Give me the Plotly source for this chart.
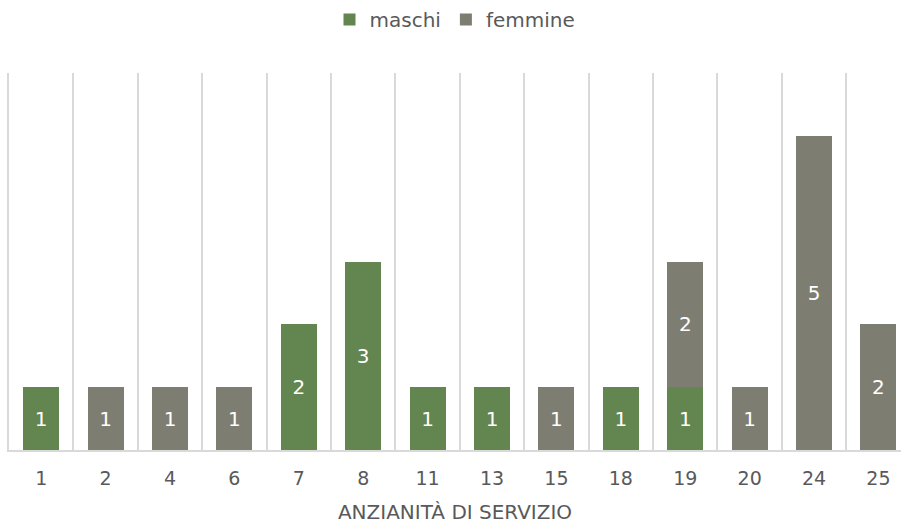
import plotly.graph_objects as go

categories = ["1", "2", "4", "6", "7", "8", "11", "13", "15", "18", "19", "20", "24", "25"]
maschi = [1, None, None, None, 2, 3, 1, 1, None, 1, 1, None, None, None]
femmine = [None, 1, 1, 1, None, None, None, None, 1, None, 2, 1, 5, 2]

GREEN = "#63854f"
GREY = "#7e7d72"
FONT = "'DejaVu Sans', sans-serif"
TXT = "#595959"
GRID = "#d9d9d9"

fig = go.Figure()
for name, vals, col in (("maschi", maschi, GREEN), ("femmine", femmine, GREY)):
    fig.add_trace(go.Bar(
        x=categories, y=vals, name=name, marker=dict(color=col, line=dict(width=0)),
        texttemplate="%{y}", textposition="inside", insidetextanchor="middle",
        textfont=dict(color="white", size=20, family=FONT), constraintext="none",
    ))

fig.update_layout(
    barmode="stack",
    bargap=0.44,
    width=901, height=526,
    margin=dict(l=9, r=0, t=73, b=76, autoexpand=False),
    paper_bgcolor="white", plot_bgcolor="white",
    font=dict(family=FONT, color=TXT, size=20),
    legend=dict(orientation="h", x=0.5, xanchor="center", y=1.0, yref="container",
                yanchor="top", font=dict(size=20, color=TXT),
                itemwidth=30, traceorder="normal"),
    showlegend=True,
)
fig.update_xaxes(
    type="category", tickson="boundaries", showgrid=True, gridcolor=GRID, gridwidth=1.5,
    ticks="", showline=True, linecolor=GRID, linewidth=1.5, automargin=False,
    range=[-0.5, 13.35], ticklabelstandoff=10,
    tickfont=dict(size=19, color=TXT),
    title=dict(text="ANZIANITÀ DI SERVIZIO", font=dict(size=20, color=TXT), standoff=17),
)
fig.update_yaxes(range=[0, 6], showgrid=False, showticklabels=False, zeroline=False,
                 ticks="", showline=True, linecolor=GRID, linewidth=1.5, automargin=False)

fig.write_html("out.html", config={"displayModeBar": False},
               post_script="document.body.style.margin='0';")
